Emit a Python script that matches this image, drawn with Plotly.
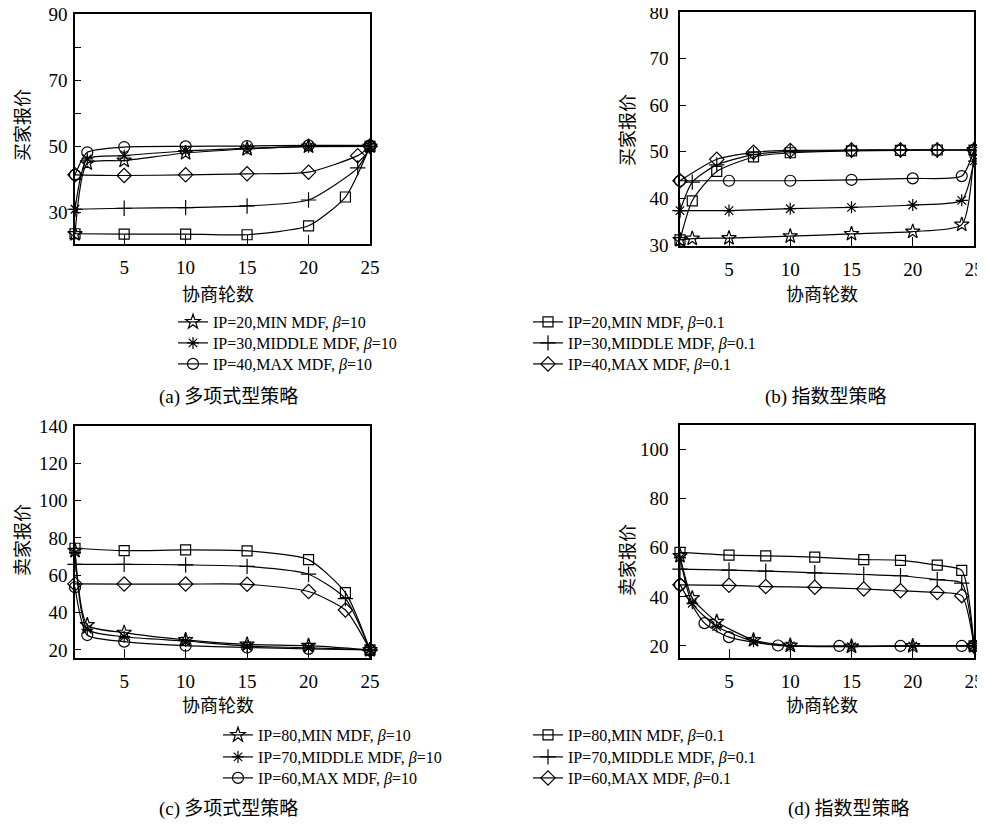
import plotly.graph_objects as go

# ---------------- data ----------------
# Panel (a): polynomial strategy, buyer offers
a_star_x = [1, 2, 5, 10, 15, 20, 25]
a_star_y = [23.5, 44.9, 45.7, 48.0, 49.2, 50.0, 50.0]
a_ast_x = [1, 2, 5, 10, 15, 20, 25]
a_ast_y = [31.0, 46.2, 47.2, 48.6, 49.4, 49.9, 50.0]
a_circ_x = [1, 2, 5, 10, 15, 20, 25]
a_circ_y = [41.4, 48.2, 49.8, 50.0, 50.1, 50.3, 50.3]
a_sq_x = [1, 5, 10, 15, 20, 23, 25]
a_sq_y = [23.6, 23.5, 23.5, 23.3, 26.0, 34.7, 50.0]
a_plus_x = [1, 5, 10, 15, 20, 24, 25]
a_plus_y = [31.0, 31.3, 31.5, 32.0, 33.8, 43.5, 50.0]
a_dia_x = [1, 5, 10, 15, 20, 24, 25]
a_dia_y = [41.4, 41.2, 41.4, 41.7, 42.2, 47.2, 50.0]

# Panel (b): exponential strategy, buyer offers
b_star_x = [1, 2, 5, 10, 15, 20, 24, 25]
b_star_y = [31.1, 31.4, 31.5, 31.9, 32.4, 32.9, 34.4, 50.4]
b_ast_x = [1, 5, 10, 15, 20, 24, 25]
b_ast_y = [37.4, 37.4, 37.8, 38.1, 38.6, 39.6, 48.0]
b_circ_x = [1, 5, 10, 15, 20, 24, 25]
b_circ_y = [43.8, 43.8, 43.8, 44.0, 44.3, 44.8, 50.4]
b_sq_x = [1, 2, 4, 7, 10, 15, 19, 22, 25]
b_sq_y = [31.1, 39.5, 45.8, 48.9, 49.8, 50.2, 50.3, 50.4, 50.4]
b_plus_x = [1, 2, 4, 7, 10, 15, 19, 22, 25]
b_plus_y = [37.4, 43.5, 47.2, 49.4, 50.1, 50.3, 50.4, 50.4, 50.4]
b_dia_x = [1, 4, 7, 10, 15, 19, 22, 25]
b_dia_y = [43.8, 48.4, 49.9, 50.3, 50.4, 50.4, 50.4, 50.4]

# Panel (c): polynomial strategy, seller offers
c_star_x = [1, 2, 5, 10, 15, 20, 25]
c_star_y = [73.2, 33.4, 29.3, 25.4, 23.0, 22.3, 20.0]
c_ast_x = [1, 2, 5, 10, 15, 20, 25]
c_ast_y = [72.2, 31.1, 27.1, 24.8, 22.1, 21.2, 20.0]
c_circ_x = [1, 2, 5, 10, 15, 20, 25]
c_circ_y = [53.6, 28.0, 24.5, 22.3, 21.3, 20.6, 20.0]
c_sq_x = [1, 5, 10, 15, 20, 23, 25]
c_sq_y = [74.5, 73.2, 73.6, 73.1, 68.4, 50.7, 20.0]
c_plus_x = [1, 5, 10, 15, 20, 23, 25]
c_plus_y = [65.9, 65.9, 65.6, 64.8, 60.6, 47.5, 20.0]
c_dia_x = [1, 5, 10, 15, 20, 23, 25]
c_dia_y = [55.4, 55.3, 55.3, 55.2, 51.3, 41.4, 20.0]

# Panel (d): exponential strategy, seller offers
d_star_x = [1, 2, 4, 7, 10, 15, 20, 25]
d_star_y = [56.7, 39.5, 29.9, 22.4, 20.2, 19.8, 20.0, 20.0]
d_ast_x = [1, 2, 4, 7, 10, 15, 20, 25]
d_ast_y = [55.9, 37.4, 27.9, 21.9, 20.0, 19.7, 20.0, 20.0]
d_circ_x = [1, 3, 5, 9, 14, 19, 24, 25]
d_circ_y = [44.9, 29.3, 23.6, 20.2, 20.0, 20.0, 20.0, 20.0]
d_sq_x = [1, 5, 8, 12, 16, 19, 22, 24, 25]
d_sq_y = [58.1, 57.0, 56.7, 56.2, 55.2, 54.9, 52.9, 50.8, 20.0]
d_plus_x = [1, 5, 8, 12, 16, 19, 22, 24, 25]
d_plus_y = [51.3, 50.9, 50.5, 49.8, 49.1, 48.6, 47.0, 45.6, 20.0]
d_dia_x = [1, 5, 8, 12, 16, 19, 22, 24, 25]
d_dia_y = [44.9, 44.7, 44.2, 43.9, 43.2, 42.5, 41.8, 40.5, 20.0]

top_names = ["IP=20,MIN MDF, <i>β</i>=10", "IP=30,MIDDLE MDF, <i>β</i>=10", "IP=40,MAX MDF, <i>β</i>=10",
             "IP=20,MIN MDF, <i>β</i>=0.1", "IP=30,MIDDLE MDF, <i>β</i>=0.1", "IP=40,MAX MDF, <i>β</i>=0.1"]
bot_names = ["IP=80,MIN MDF, <i>β</i>=10", "IP=70,MIDDLE MDF, <i>β</i>=10", "IP=60,MAX MDF, <i>β</i>=10",
             "IP=80,MIN MDF, <i>β</i>=0.1", "IP=70,MIDDLE MDF, <i>β</i>=0.1", "IP=60,MAX MDF, <i>β</i>=0.1"]

x_ticks = [5, 10, 15, 20, 25]
y_range_a = [20.5, 90]
y_range_b = [29.8, 80]
y_range_c = [15.7, 140]
y_range_d = [15.1, 110]
y_ticks_a = [30, 40, 50, 60, 70, 80, 90]
y_labels_a = ["30", "", "50", "", "70", "", "90"]
y_ticks_b = [30, 40, 50, 60, 70, 80]
y_ticks_c = [20, 40, 60, 80, 100, 120, 140]
y_ticks_d = [20, 40, 60, 80, 100]

# ---------------- figure ----------------
SER = "Liberation Serif"
CJK = "Noto Sans CJK SC"
symbols = ["star-open", "asterisk-open", "circle-open", "square-open", "cross-thin-open", "diamond-open"]
sizes = [11, 10, 11, 10, 11, 11]

# page body has an 8px margin, so the figure is drawn 8px smaller and all
# target pixel positions are shifted by that offset
OFF = 8
W, H = 985 - OFF, 825 - OFF
def px_x(p):
    return (p - OFF) / W
def px_y(p):
    return 1 - (p - OFF) / H

fig = go.Figure()

# legend placement: text start x and row centre y for each legend column
leg_cols = {0: (213, [322, 343, 364]), 1: (568, [322, 343, 364]),
            2: (258, [735, 757, 778]), 3: (568, [735, 757, 778])}

panels = [
    ("x", "y", [(a_star_x, a_star_y), (a_ast_x, a_ast_y), (a_circ_x, a_circ_y),
                (a_sq_x, a_sq_y), (a_plus_x, a_plus_y), (a_dia_x, a_dia_y)], top_names, 0),
    ("x2", "y2", [(b_star_x, b_star_y), (b_ast_x, b_ast_y), (b_circ_x, b_circ_y),
                  (b_sq_x, b_sq_y), (b_plus_x, b_plus_y), (b_dia_x, b_dia_y)], top_names, None),
    ("x3", "y3", [(c_star_x, c_star_y), (c_ast_x, c_ast_y), (c_circ_x, c_circ_y),
                  (c_sq_x, c_sq_y), (c_plus_x, c_plus_y), (c_dia_x, c_dia_y)], bot_names, 2),
    ("x4", "y4", [(d_star_x, d_star_y), (d_ast_x, d_ast_y), (d_circ_x, d_circ_y),
                  (d_sq_x, d_sq_y), (d_plus_x, d_plus_y), (d_dia_x, d_dia_y)], bot_names, None),
]

legends = {}
leg_count = 0
for pi, (xa, ya, series, names, legbase) in enumerate(panels):
    for si, (xs, ys) in enumerate(series):
        if legbase is not None:
            leg_count += 1
            lid = "legend" if leg_count == 1 else "legend%d" % leg_count
            col = legbase + (0 if si < 3 else 1)
            tx, rows = leg_cols[col]
            legends[lid] = dict(x=px_x(tx - 40), y=px_y(rows[si % 3]), xanchor="left", yanchor="middle",
                                font=dict(family=SER, size=16, color="black"),
                                bgcolor="rgba(0,0,0,0)", borderwidth=0, itemwidth=30)
            kw = dict(showlegend=True, legend=lid)
        else:
            kw = dict(showlegend=False)
        fig.add_trace(go.Scatter(
            x=xs, y=ys, xaxis=xa, yaxis=ya, mode="lines+markers", name=names[si],
            line=dict(color="black", width=1.2, shape="spline", smoothing=0.6),
            marker=dict(symbol=symbols[si], size=sizes[si], color="black",
                        line=dict(color="black", width=1.2)),
            cliponaxis=False, **kw,
        ))

dom = {
    "a": ([75, 370], [14, 244]),
    "b": ([680, 974], [12, 246]),
    "c": ([75, 370], [426, 658]),
    "d": ([680, 974], [425, 658]),
}

def xaxis(d, anchor):
    return dict(domain=[px_x(d[0][0]), px_x(d[0][1])], range=[1, 25], tickvals=x_ticks, anchor=anchor,
                ticks="inside", ticklen=9, tickwidth=1.2, tickcolor="black",
                showline=True, linecolor="black", linewidth=1.6, mirror=True,
                showgrid=False, zeroline=False, ticklabelstandoff=5, ticklabeloverflow="allow",
                tickfont=dict(family=SER, size=19, color="black"))

def yaxis(d, anchor, rng, tv, tt=None, standoff=2):
    ax = dict(domain=[px_y(d[1][1]), px_y(d[1][0])], range=rng, tickvals=tv, anchor=anchor,
              ticks="inside", ticklen=6, tickwidth=1.2, tickcolor="black",
              showline=True, linecolor="black", linewidth=1.6, mirror=True,
              showgrid=False, zeroline=False, ticklabelstandoff=standoff, ticklabeloverflow="allow",
              tickfont=dict(family=SER, size=19, color="black"))
    if tt is not None:
        ax["ticktext"] = tt
    return ax

fig.update_layout(
    width=W, height=H, margin=dict(l=0, r=0, t=0, b=0, autoexpand=False),
    paper_bgcolor="white", plot_bgcolor="white",
    xaxis=xaxis(dom["a"], "y"), xaxis2=xaxis(dom["b"], "y2"),
    xaxis3=xaxis(dom["c"], "y3"), xaxis4=xaxis(dom["d"], "y4"),
    yaxis=yaxis(dom["a"], "x", y_range_a, y_ticks_a, y_labels_a, 2),
    yaxis2=yaxis(dom["b"], "x2", y_range_b, y_ticks_b, None, 6),
    yaxis3=yaxis(dom["c"], "x3", y_range_c, y_ticks_c, None, 2),
    yaxis4=yaxis(dom["d"], "x4", y_range_d, y_ticks_d, None, 6),
    **legends,
)

ann = []
def text(x, y, s, size=18, family=CJK, angle=0):
    ann.append(dict(x=px_x(x), y=px_y(y), xref="paper", yref="paper", text=s, showarrow=False,
                    xanchor="center", yanchor="middle", textangle=angle,
                    font=dict(family=family, size=size, color="black")))

text(218, 293, "协商轮数", size=18)
text(822, 293, "协商轮数", size=18)
text(218, 704, "协商轮数", size=18)
text(822, 704, "协商轮数", size=18)
text(21, 125, "买家报价", angle=-90)
text(626, 130, "买家报价", angle=-90)
text(21, 540, "卖家报价", angle=-90)
text(626, 560, "卖家报价", angle=-90)
text(228, 394, "<span style='font-family:Liberation Serif'>(a)</span> 多项式型策略", size=19)
text(825, 394, "<span style='font-family:Liberation Serif'>(b)</span> 指数型策略", size=19)
text(228, 806, "<span style='font-family:Liberation Serif'>(c)</span> 多项式型策略", size=19)
text(848, 806, "<span style='font-family:Liberation Serif'>(d)</span> 指数型策略", size=19)
fig.update_layout(annotations=ann)

fig.write_html("out.html")
